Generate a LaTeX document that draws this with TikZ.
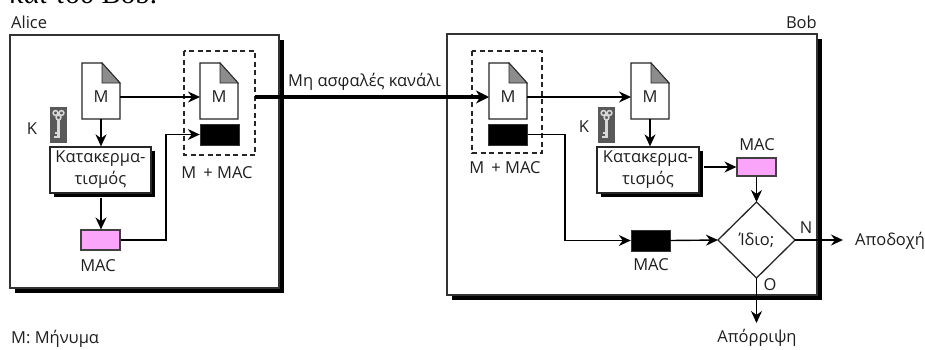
\documentclass[tikz,border=0pt]{standalone}
\usepackage{fontspec}
\setmainfont{Open Sans}
\newfontfamily\titlefont{Liberation Serif}
\usetikzlibrary{arrows.meta}
\definecolor{macpink}{RGB}{250,165,250}
\tikzset{
 x=1pt,y=-1pt,
 lbl/.style={inner sep=0pt,font=\fontsize{16.5}{19}\selectfont,text=black!88},
 conn/.style={line width=1.4pt,-{Stealth[length=12pt,width=11pt]}},
 heavy/.style={line width=3.8pt},
 panel/.style={draw=black!80,fill=white,line width=1.4pt},
 shadow/.style={fill=black},
 dashbox/.style={draw=black!85,line width=1.1pt,dash pattern=on 5pt off 3.5pt},
 pinkbox/.style={draw=black!75,fill=macpink,line width=1.1pt},
 blackbox/.style={fill=black,draw=black!80},
 docshape/.style={draw=black!85,fill=white,line width=1.2pt},
 foldshape/.style={draw=black!85,fill=black!45,line width=.8pt},
 hashbox/.style={draw=black!85,fill=white,line width=1.3pt,align=center,inner sep=0pt,font=\fontsize{16.5}{22}\selectfont,text=black!88},
 keybg/.style={fill=black!65}
}
\newcommand{\docat}[3]{% x, y, name
 \draw[docshape] (#1,#2) -- (#1+20,#2) -- (#1+38,#2+20) -- (#1+38,#2+56) -- (#1,#2+56) -- cycle;
 \draw[foldshape] (#1+20,#2) -- (#1+38,#2+20) -- (#1+20,#2+20) -- cycle;
 \node[lbl] (#3) at (#1+19,#2+34) {M};
 \coordinate (#3w) at (#1,#2+34);
 \coordinate (#3e) at (#1+38,#2+34);
 \coordinate (#3s) at (#1+19,#2+56);
}
\newcommand{\keyat}[2]{%
 \fill[keybg] (#1,#2) rectangle (#1+17,#2+36);
 \draw[white!85!black,line width=1.5pt] (#1+5.5,#2+6) circle (2.4) (#1+11.5,#2+6) circle (2.4) (#1+8.5,#2+10.5) circle (2.4);
 \draw[white!85!black,line width=2.4pt] (#1+8.5,#2+12) -- (#1+8.5,#2+31) (#1+8.5,#2+30) -- (#1+4,#2+30) (#1+8.5,#2+26) -- (#1+5,#2+26);
}
\begin{document}
\begin{tikzpicture}
\useasboundingbox (0,0) rectangle (925,349);
\begin{scope}
\clip (0,0) rectangle (925,349);
\node[anchor=base west,inner sep=0pt,font=\titlefont\fontsize{29}{31}\selectfont] (title) at (9,3) {και του Bob.};
\end{scope}

% Alice panel
\fill[shadow] (15,40) rectangle (284,293);
\draw[panel] (10,35) rectangle (279,288);
\node[lbl,anchor=west] (alice) at (11,22) {Alice};
\node[lbl,anchor=west] (legend) at (11,339) {M: Μήνυμα};
\node[lbl] (ka) at (32,129) {K};
\keyat{50}{107}
\draw[dashbox] (184,51) rectangle (255,155);
\docat{82}{63}{ma}
\docat{200}{63}{mb}
\node[blackbox,minimum width=39pt,minimum height=21pt,inner sep=0pt] (ba) at (219.5,134.5) {};
\node[lbl] (mmaca) at (217,173) {M\, + MAC};
\fill[shadow] (54,151) rectangle (155,197);
\node[hashbox,minimum width=101pt,minimum height=46pt] (ha) at (100.5,170) {Κατακερμα-\\τισμός};
\node[pinkbox,minimum width=39pt,minimum height=20pt,inner sep=0pt] (pa) at (100.5,240) {};
\node[lbl] (maca) at (98,266) {MAC};
\draw[conn] (mae) -- (mbw);
\draw[conn] (mas) -- (ha.north -| mas);
\draw[conn] (ha.south -| mas) ++(0,4) -- (pa.north -| mas);
\draw[conn] (pa.east) -- (166,240) -- (166,134.5) -- (ba.west);

% Bob panel
\fill[shadow] (452,39) rectangle (822,300);
\draw[panel] (447,34) rectangle (817,295);
\node[lbl,anchor=east] (bob) at (817,22) {Bob};
\draw[dashbox] (472,51) rectangle (542,153);
\docat{489}{63}{mc}
\docat{631}{63}{md}
\node[blackbox,minimum width=39pt,minimum height=21pt,inner sep=0pt] (bb) at (508,134.5) {};
\node[lbl] (mmacb) at (505,168) {M\, + MAC};
\node[lbl] (kb) at (584,127) {K};
\keyat{598}{107}
\fill[shadow] (601,151) rectangle (703,197);
\node[hashbox,minimum width=102pt,minimum height=46pt] (hb) at (648,170) {Κατακερμα-\\τισμός};
\node[pinkbox,minimum width=39pt,minimum height=18pt,inner sep=0pt] (pb) at (756.5,167) {};
\node[lbl] (macb) at (757,145) {MAC};
\node[blackbox,minimum width=39pt,minimum height=21pt,inner sep=0pt] (bc) at (650.5,240.5) {};
\node[lbl] (macc) at (651,265) {MAC};
\coordinate (dc) at (756.5,240);
\draw[black!85,fill=white,line width=1.3pt] (718,240) coordinate (dw) -- (756.5,202) coordinate (dn) -- (795,240) coordinate (de) -- (756.5,278) coordinate (ds) -- cycle;
\node[lbl] (samelbl) at (dc) {Ίδιο;};
\node[lbl] (n) at (806,228) {N};
\node[lbl] (o) at (770,285) {O};
\node[lbl,anchor=west] (acc) at (855,241) {Αποδοχή};
\node[lbl] (rej) at (757,338) {Απόρριψη};
\coordinate (accin) at (843,240);
\coordinate (rejin) at (756.5,323);
\draw[conn] (mce) -- (mdw);
\draw[conn] (mds) -- (hb.north -| mds);
\draw[conn] (hb.east |- pb.west) ++(4,0) -- (pb.west);
\draw[conn] (pb.south) -- (dn);
\draw[conn] (bb.east) -- (565,134.5) -- (565,240.5) -- (bc.west);
\draw[conn] (bc.east) -- (dw);
\draw[conn] (de) -- (accin);
\draw[conn] (ds) -- (rejin);

% channel
\draw[heavy,-{Stealth[length=13pt,width=13pt]}] (255,97) -- (mcw);
\node[lbl,anchor=west] (chan) at (288,82) {Μη ασφαλές κανάλι};
\end{tikzpicture}
\end{document}
